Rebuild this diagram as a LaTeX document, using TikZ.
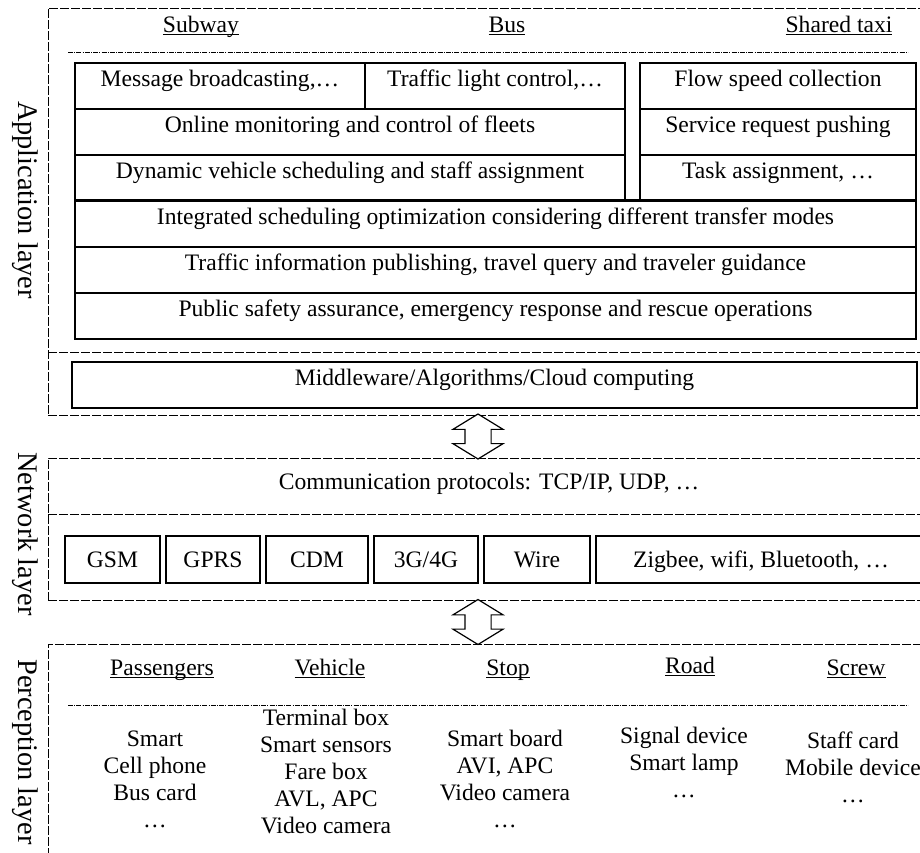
\documentclass[tikz,border=0pt]{standalone}
\usepackage{fontspec}
\setmainfont{Liberation Serif}
\usetikzlibrary{calc,positioning,shapes.arrows}

\newcommand\headtext[1]{\setbox0\hbox{#1}\rlap{\rule[-1.4pt]{\wd0}{0.5pt}}\box0}

\tikzset{
  layer/.style={draw,line width=0.5pt,dash pattern=on 4.5pt off 1pt,inner sep=0pt},
  layerline/.style={line width=0.5pt,dash pattern=on 4.5pt off 1pt},
  headline/.style={line width=0.4pt,dash pattern=on 2.5pt off 0.6pt on 0.5pt off 0.6pt},
  cell/.style={draw,line width=0.6pt,inner sep=0pt,minimum height=23pt,text height=7pt,text depth=7pt},
  netcell/.style={draw,line width=0.7pt,inner sep=0pt,minimum height=23.5pt,text height=7.8pt,text depth=0pt},
  heading/.style={anchor=base,inner sep=0pt},
  items/.style={align=center,inner sep=0pt},
  layername/.style={rotate=-90,inner sep=0pt,font=\fontsize{14.2}{17}\selectfont},
  updown/.style={double arrow,draw,fill=white,line width=0.6pt,rotate=90,minimum height=22.5pt,
    inner xsep=0pt,inner ysep=6.25pt,double arrow head extend=6pt,double arrow tip angle=117}
}

\begin{document}
\begin{tikzpicture}[x=0.5pt,y=-0.5pt,font=\fontsize{11.8}{13.5}\selectfont]
\useasboundingbox (0,0) rectangle (920,852);

% layers
\node[layer,minimum width=437pt,minimum height=203.5pt] (app) at (485,211.5) {};
\node[layer,minimum width=437pt,minimum height=71pt] (net) at (485,529) {};
\node[layer,minimum width=437pt,minimum height=113pt] (perc) at (485,757) {};

\draw[layerline] (48,352) -- (922,352);
\draw[layerline] (48,514) -- (922,514);

\node[layername] (appname) at (25,200) {Application layer};
\node[layername] (netname) at (25,534) {Network layer};
\node[layername] (percname) at (25,752) {Perception layer};

% application layer
\node[heading] (subway) at (201,32) {\headtext{Subway}};
\node[heading] (bus) at (507,32) {\headtext{Bus}};
\node[heading] (taxi) at (839,32) {\headtext{Shared taxi}};
\draw[headline] (68,52) -- (908,52);

\node[cell,minimum width=145pt] (msg) at (220,86) {Message broadcasting,…};
\node[cell,minimum width=130pt] (light) at (495,86) {Traffic light control,…};
\node[cell,minimum width=275pt] (online) at (350,132) {Online monitoring and control of fleets};
\node[cell,minimum width=275pt] (dyn) at (350,178) {Dynamic vehicle scheduling and staff assignment};
\node[cell,minimum width=138pt] (flow) at (778,86) {Flow speed collection};
\node[cell,minimum width=138pt] (serv) at (778,132) {Service request pushing};
\node[cell,minimum width=138pt] (task) at (778,178) {Task assignment, …};
\node[cell,minimum width=420.5pt] (integ) at (495.5,224) {Integrated scheduling optimization considering different transfer modes};
\node[cell,minimum width=420.5pt] (info) at (495.5,270) {Traffic information publishing, travel query and traveler guidance};
\node[cell,minimum width=420.5pt] (safety) at (495.5,316) {Public safety assurance, emergency response and rescue operations};
\draw[line width=1.1pt] (integ.north west) -- (integ.north east);

\node[cell,minimum width=422.5pt] (mw) at (494.5,385) {Middleware/Algorithms/Cloud computing};

% network layer
\node[anchor=base,inner sep=0pt] (proto) at (489,489) {Communication protocols: TCP/IP, UDP, …};

\node[netcell,minimum width=47.5pt] (gsm) at (112.5,559.5) {GSM};
\node[netcell,minimum width=47pt,right=2.3pt of gsm] (gprs) {GPRS};
\node[netcell,minimum width=51pt,right=2.3pt of gprs] (cdm) {CDM};
\node[netcell,minimum width=52pt,right=2.3pt of cdm] (g34) {3G/4G};
\node[netcell,minimum width=53pt,right=2.3pt of g34] (wire) {Wire};
\node[netcell,minimum width=165pt,right=2.3pt of wire] (zig) {Zigbee, wifi, Bluetooth, …};

% arrows between layers
\node[updown] (arrup) at ($(app.south)!.5!(net.north)+(-7,0)$) {};
\node[updown] (arrdown) at ($(net.south)!.5!(perc.north)+(-7,0)$) {};

% perception layer
\node[heading] (pass) at (162,675) {\headtext{Passengers}};
\node[heading] (veh) at (330,675) {\headtext{Vehicle}};
\node[heading] (stop) at (508,675) {\headtext{Stop}};
\node[heading] (road) at (690,673) {\headtext{Road}};
\node[heading] (screw) at (856,675) {\headtext{Screw}};
\draw[headline] (68,705) -- (908,705);

\node[items] (passitems) at (155,779) {Smart\\Cell phone\\Bus card\\…};
\node[items] (vehitems) at (326,771) {Terminal box\\Smart sensors\\Fare box\\AVL, APC\\Video camera};
\node[items] (stopitems) at (505,779) {Smart board\\AVI, APC\\Video camera\\…};
\node[items] (roaditems) at (684,762) {Signal device\\Smart lamp\\…};
\node[items] (screwitems) at (853,767) {Staff card\\Mobile device\\…};

\end{tikzpicture}
\end{document}
